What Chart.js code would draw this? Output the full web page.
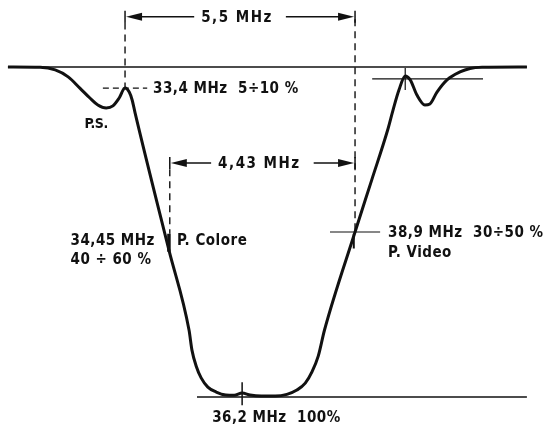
<!DOCTYPE html>
<html>
<head>
<meta charset="utf-8">
<script src="https://cdn.jsdelivr.net/npm/chart.js@4/dist/chart.umd.min.js"></script>
<style>
  html, body { margin: 0; background: #fff; }
  #box { width: 552px; height: 428px; }
</style>
</head>
<body>
<div id="box"><canvas id="curvaFI"></canvas></div>
<script>
const INK = "#111";
const FONT = '"DejaVu Sans Condensed", "DejaVu Sans", sans-serif';

// Curva di risposta dell'amplificatore FI (frequenza in MHz, attenuazione in %)
const curvaMHz = [
  30.6, 31.37, 31.73, 32.04, 32.32, 32.56, 32.75, 32.95, 33.11, 33.26, 33.4,
  33.5, 33.57, 33.64, 34.45, 34.93, 35.0, 35.1, 35.22, 35.38, 35.58, 35.81,
  36.01, 36.2, 36.39, 36.66, 36.99, 37.27, 37.51, 37.71, 37.87, 38.02, 38.17,
  38.9, 39.3, 39.68, 39.81, 39.95, 40.1, 40.22, 40.38, 40.57, 40.69, 40.86,
  41.1, 41.41, 41.65, 41.94, 43.01,
];
const curvaPct = [
  0, 0.1, 0.9, 3.0, 6.4, 9.4, 11.5, 12.4, 11.8, 9.4, 6.4,
  7.6, 10.0, 13.9, 55.5, 79.7, 85.8, 90.6, 94.2, 97.0, 98.5, 99.4,
  99.5, 98.8, 99.4, 99.7, 99.7, 99.2, 97.9, 95.8, 92.4, 87.6, 79.7,
  50.0, 34.2, 19.1, 13.0, 7.0, 2.7, 3.9, 8.5, 11.5, 11.2, 7.6,
  3.9, 1.5, 0.45, 0.1, 0,
];

// Punti notevoli: portante suono, colore, centro banda, video
const puntiMHz = [33.4, 34.45, 36.2, 38.9];
const puntiPct = [6.4, 55.5, 100, 50];
const puntiTolleranza = ["5÷10 %", "40 ÷ 60 %", "100%", "30÷50 %"];
const puntiNome = ["P.S.", "P. Colore", "", "P. Video"];

// Quote di distanza tra le portanti
const quotaFine = [38.9, 38.9];
const quotaLarghezza = [5.5, 4.43];
const quotaLivello = [-15.2, 29.1];

// Linee orizzontali di riferimento
const rifLivello = [0, 100, 3.6, 50, 6.4];
const rifDa = [30.6, 35.12, 39.31, 38.3, 32.87];
const rifA = [43.01, 43.01, 41.96, 39.5, 33.93];

// Tacche verticali sui punti
const taccaMHz = [36.2, 40.1, 34.45, 38.87];
const taccaDa = [95.5, 0.3, 50.5, 50.5];
const taccaA = [102.5, 7, 56, 55];

// Linee tratteggiate di richiamo delle quote
const richiamoMHz = [33.4, 38.9, 34.47];
const richiamoDa = [-13.5, -14.5, 31];
const richiamoA = [6.4, 50, 50.5];

const mhz = (v) => String(v).replace(".", ",") + " MHz";

function segmento(x1, y1, x2, y2, extra) {
  return {
    data: [{ x: x1, y: y1 }, { x: x2, y: y2 }],
    borderColor: INK,
    borderWidth: 1.5,
    pointRadius: 0,
    tension: 0,
    ...extra,
  };
}

const datasets = [
  {
    data: curvaMHz.map((f, i) => ({ x: f, y: curvaPct[i] })),
    borderColor: INK,
    borderWidth: 3,
    pointRadius: 0,
    cubicInterpolationMode: "monotone",
  },
];

const rifSpessore = [1.6, 1.6, 1.1, 1.1, 1.1];
const rifTratto = [[], [], [], [], [6, 4]];
rifLivello.forEach((l, i) => {
  datasets.push(
    segmento(rifDa[i], l, rifA[i], l, {
      borderWidth: rifSpessore[i],
      borderDash: rifTratto[i],
    }),
  );
});

const taccaSpessore = [1.5, 1.2, 3.5, 2];
taccaMHz.forEach((f, i) => {
  datasets.push(segmento(f, taccaDa[i], f, taccaA[i], { borderWidth: taccaSpessore[i] }));
});

richiamoMHz.forEach((f, i) => {
  datasets.push(
    segmento(f, richiamoDa[i], f, richiamoA[i], { borderWidth: 1.4, borderDash: [7, 5] }),
  );
});

function freccia(ctx, xPunta, y, verso) {
  ctx.beginPath();
  ctx.moveTo(xPunta, y);
  ctx.lineTo(xPunta - verso * 16, y - 4);
  ctx.lineTo(xPunta - verso * 16, y + 4);
  ctx.closePath();
  ctx.fill();
}

function linea(ctx, x1, y1, x2, y2) {
  ctx.beginPath();
  ctx.moveTo(x1, y1);
  ctx.lineTo(x2, y2);
  ctx.stroke();
}

// Quote con frecce e testi dei punti
const scritte = {
  id: "scritte",
  afterDatasetsDraw(chart) {
    const { ctx } = chart;
    const sx = chart.scales.x;
    const sy = chart.scales.y;
    ctx.save();
    ctx.fillStyle = INK;
    ctx.strokeStyle = INK;
    ctx.lineWidth = 1.5;

    // quote
    ctx.font = "bold 15px " + FONT;
    ctx.letterSpacing = "1.5px";
    ctx.textAlign = "center";
    ctx.textBaseline = "middle";
    quotaFine.forEach((fine, i) => {
      const x1 = sx.getPixelForValue(fine - quotaLarghezza[i]);
      const x2 = sx.getPixelForValue(fine);
      const yy = sy.getPixelForValue(quotaLivello[i]);
      const testo = mhz(quotaLarghezza[i]);
      const w = ctx.measureText(testo).width;
      const xm = (x1 + x2) / 2;
      linea(ctx, x1, yy - 6, x1, yy + 6);
      linea(ctx, x2, yy - 6, x2, yy + 6);
      linea(ctx, x1 + 10, yy, xm - w / 2 - 10, yy);
      linea(ctx, xm + w / 2 + 10, yy, x2 - 10, yy);
      freccia(ctx, x1 + 1, yy, -1);
      freccia(ctx, x2 - 1, yy, 1);
      ctx.fillText(testo, xm - 3, yy + 1);
    });

    // etichette dei punti
    ctx.letterSpacing = "0.5px";
    ctx.textBaseline = "alphabetic";
    const px = puntiMHz.map((f) => sx.getPixelForValue(f));
    const py = puntiPct.map((p) => sy.getPixelForValue(p));

    ctx.textAlign = "left";
    ctx.fillText(mhz(puntiMHz[0]) + "  " + puntiTolleranza[0], px[0] + 28, py[0] + 5);

    const t1 = mhz(puntiMHz[1]);
    const fine1 = px[1] - 14;
    const inizio1 = fine1 - ctx.measureText(t1).width;
    ctx.fillText(t1, inizio1, py[1] - 5);
    ctx.fillText(puntiTolleranza[1], inizio1, py[1] + 14);
    ctx.fillText(puntiNome[1], px[1] + 8, py[1] - 5);

    ctx.fillText(mhz(puntiMHz[2]) + "  " + puntiTolleranza[2], px[2] - 30, py[2] + 25);

    ctx.fillText(mhz(puntiMHz[3]) + "  " + puntiTolleranza[3], px[3] + 33, py[3] + 5);
    ctx.fillText(puntiNome[3], px[3] + 33, py[3] + 25);

    ctx.font = "bold 14px " + FONT;
    ctx.letterSpacing = "-0.5px";
    ctx.textAlign = "center";
    ctx.fillText(puntiNome[0], px[0] - 29, py[0] + 40);

    ctx.restore();
  },
};

new Chart(document.getElementById("curvaFI"), {
  type: "line",
  data: { datasets },
  options: {
    responsive: true,
    maintainAspectRatio: false,
    animation: false,
    layout: { padding: 0 },
    scales: {
      x: { type: "linear", min: 30.41, max: 43.61, display: false },
      y: { type: "linear", min: -20.3, max: 109.4, reverse: true, display: false },
    },
    plugins: {
      legend: { display: false },
      tooltip: { enabled: false },
    },
  },
  plugins: [scritte],
});
</script>
</body>
</html>
